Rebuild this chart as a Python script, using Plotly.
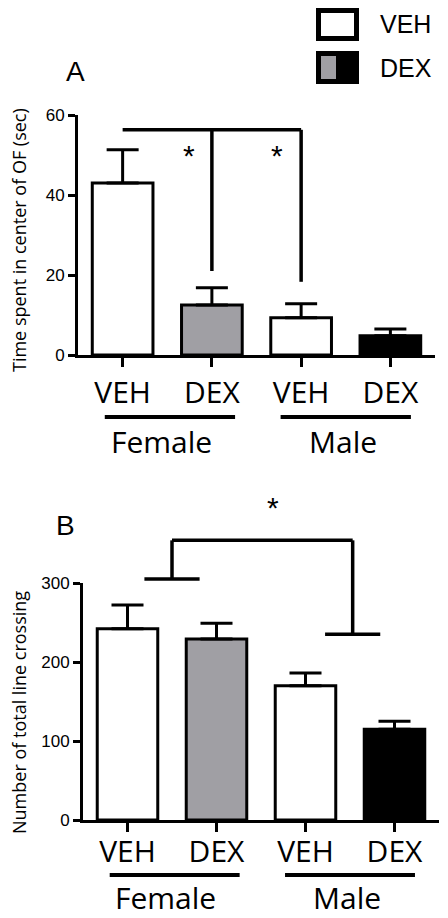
import plotly.graph_objects as go

W, H = 448, 918
OFF = 8                      # page body margin; figure is drawn from (8, 8)
FW, FH = W - OFF, H - OFF

# ---------------- data ----------------
groups = ["VEH", "DEX", "VEH", "DEX"]
sexes = ["Female", "Male"]
bar_colors = ["#ffffff", "#a09fa4", "#ffffff", "#000000"]

center_time_mean = [43.0, 12.5, 9.3, 4.8]
center_time_sem = [8.3, 4.3, 3.5, 1.7]

line_cross_mean = [242, 229, 170, 115]
line_cross_sem = [30, 20, 16, 10]

yA_ticks = [0, 20, 40, 60]
yB_ticks = [0, 100, 200, 300]

# significance marks (data units)
sigA_x = [0, 1, 2]
sigA_top = 56.3
sigA_ends = [21.0, 18.3]
sigA_star_x = [0.74, 1.73]
sigA_star_y = 50.0

sigB_group_x = [0.5, 2.53]
sigB_top = 354
sigB_ends = [305, 235]
sigB_star_x = 1.63
sigB_star_y = 395

group_line_center = [0.53, 2.5]
group_label_x = [0.43, 2.47]


# ---------------- layout helpers (page pixels -> paper) ----------------
def px_x(p):
    return (p - OFF) / FW


def px_y(p):
    return 1 - (p - OFF) / FH


xA_dom = [px_x(78), px_x(435)]
yA_dom = [px_y(355), px_y(115)]
xB_dom = [px_x(83), px_x(439)]
yB_dom = [px_y(820), px_y(583)]

TICK_FONT = dict(family="Liberation Sans, Arial", size=17, color="black")
CAT_FONT = dict(family="Open Sans", size=30, color="black")

fig = go.Figure()

xs = list(range(len(groups)))

fig.add_trace(go.Bar(
    x=xs, y=center_time_mean, width=0.68,
    marker=dict(color=bar_colors, line=dict(color="black", width=3)),
    error_y=dict(type="data", symmetric=False, array=center_time_sem,
                 arrayminus=[0] * 4, color="black", thickness=3, width=16),
    xaxis="x", yaxis="y", showlegend=False, hoverinfo="skip"))

fig.add_trace(go.Bar(
    x=xs, y=line_cross_mean, width=0.68,
    marker=dict(color=bar_colors, line=dict(color="black", width=3)),
    error_y=dict(type="data", symmetric=False, array=line_cross_sem,
                 arrayminus=[0] * 4, color="black", thickness=3, width=16),
    xaxis="x2", yaxis="y2", showlegend=False, hoverinfo="skip"))

common_x = dict(range=[-0.5, 3.5], tickmode="array", tickvals=xs, ticktext=groups,
                ticks="outside", ticklen=9, tickwidth=3, tickcolor="black",
                showline=True, linewidth=3, linecolor="black", showgrid=False,
                zeroline=False, tickfont=CAT_FONT, fixedrange=True, automargin=False)
common_y = dict(ticks="outside", ticklen=7, tickwidth=3, tickcolor="black",
                showline=True, linewidth=3, linecolor="black", showgrid=False,
                zeroline=False, tickfont=TICK_FONT, tickmode="array", fixedrange=True,
                automargin=False)

fig.update_layout(
    width=FW, height=FH,
    margin=dict(l=0, r=0, t=0, b=0),
    paper_bgcolor="white", plot_bgcolor="rgba(0,0,0,0)",
    xaxis=dict(domain=xA_dom, anchor="y", ticklabelstandoff=0, **common_x),
    yaxis=dict(domain=yA_dom, anchor="x", range=[0, 60], tickvals=yA_ticks, **common_y),
    xaxis2=dict(domain=xB_dom, anchor="y2", ticklabelstandoff=-6, **common_x),
    yaxis2=dict(domain=yB_dom, anchor="x2", range=[0, 300], tickvals=yB_ticks, **common_y),
)

shapes = []
LW = 3.5
# panel A bracket
shapes.append(dict(type="line", xref="x", yref="y", x0=sigA_x[0], x1=sigA_x[2],
                   y0=sigA_top, y1=sigA_top, line=dict(color="black", width=LW)))
for xv, yend in zip(sigA_x[1:], sigA_ends):
    shapes.append(dict(type="line", xref="x", yref="y", x0=xv, x1=xv,
                       y0=sigA_top, y1=yend, line=dict(color="black", width=LW)))

# panel B bracket (domain units so it can extend above the axis)
ymaxB = yB_ticks[-1]
shapes.append(dict(type="line", xref="x2", yref="y2 domain",
                   x0=sigB_group_x[0], x1=sigB_group_x[1],
                   y0=sigB_top / ymaxB, y1=sigB_top / ymaxB,
                   line=dict(color="black", width=LW)))
for gx, yend in zip(sigB_group_x, sigB_ends):
    shapes.append(dict(type="line", xref="x2", yref="y2 domain", x0=gx, x1=gx,
                       y0=sigB_top / ymaxB, y1=yend / ymaxB,
                       line=dict(color="black", width=LW)))
    shapes.append(dict(type="line", xref="x2", yref="y2 domain",
                       x0=gx - 0.31, x1=gx + 0.31, y0=yend / ymaxB, y1=yend / ymaxB,
                       line=dict(color="black", width=LW)))

# group underlines + labels
annotations = []
for xr, yr, uy, ly in [("x", "y domain", -0.258, -0.36), ("x2", "y2 domain", -0.232, -0.328)]:
    for c, lx, s in zip(group_line_center, group_label_x, sexes):
        shapes.append(dict(type="line", xref=xr, yref=yr, x0=c - 0.73, x1=c + 0.73,
                           y0=uy, y1=uy, line=dict(color="black", width=4)))
        annotations.append(dict(xref=xr, yref=yr, x=lx, y=ly, text=s, showarrow=False,
                                font=CAT_FONT, xanchor="center", yanchor="middle"))

# stars
STAR_FONT = dict(family="Liberation Sans, Arial", size=30, color="black")
for sx in sigA_star_x:
    annotations.append(dict(xref="x", yref="y", x=sx, y=sigA_star_y, text="*",
                            showarrow=False, font=STAR_FONT,
                            xanchor="center", yanchor="middle"))
annotations.append(dict(xref="x2", yref="y2 domain", x=sigB_star_x, y=sigB_star_y / ymaxB,
                        text="*", showarrow=False, font=STAR_FONT,
                        xanchor="center", yanchor="middle"))

# axis titles
TITLE_FONT = dict(family="Open Sans", size=18, color="black")
annotations.append(dict(xref="paper", yref="paper", x=px_x(19), y=px_y(240),
                        text="Time spent in center of OF (sec)", textangle=-90,
                        showarrow=False, font=TITLE_FONT, xanchor="center", yanchor="middle"))
annotations.append(dict(xref="paper", yref="paper", x=px_x(19), y=px_y(713),
                        text="Number of total line crossing", textangle=-90,
                        showarrow=False, font=TITLE_FONT, xanchor="center", yanchor="middle"))

# panel letters
LETTER_FONT = dict(family="Liberation Sans, Arial", size=28, color="black")
annotations.append(dict(xref="paper", yref="paper", x=px_x(75), y=px_y(72), text="A",
                        showarrow=False, font=LETTER_FONT, xanchor="center", yanchor="middle"))
annotations.append(dict(xref="paper", yref="paper", x=px_x(66), y=px_y(525), text="B",
                        showarrow=False, font=LETTER_FONT, xanchor="center", yanchor="middle"))

# custom legend
shapes.append(dict(type="rect", xref="paper", yref="paper",
                   x0=px_x(318.5), x1=px_x(356.5), y0=px_y(10.5), y1=px_y(38.5),
                   fillcolor="white", line=dict(color="black", width=5)))
shapes.append(dict(type="rect", xref="paper", yref="paper",
                   x0=px_x(316), x1=px_x(359), y0=px_y(51), y1=px_y(84),
                   fillcolor="black", line=dict(width=0)))
shapes.append(dict(type="rect", xref="paper", yref="paper",
                   x0=px_x(321), x1=px_x(336), y0=px_y(56), y1=px_y(79),
                   fillcolor=bar_colors[1], line=dict(width=0)))
LEG_FONT = dict(family="Liberation Sans, Arial", size=25, color="black")
annotations.append(dict(xref="paper", yref="paper", x=px_x(378), y=px_y(24), text="VEH",
                        xanchor="left", yanchor="middle", showarrow=False, font=LEG_FONT))
annotations.append(dict(xref="paper", yref="paper", x=px_x(378), y=px_y(68), text="DEX",
                        xanchor="left", yanchor="middle", showarrow=False, font=LEG_FONT))

fig.update_layout(shapes=shapes, annotations=annotations)

fig.write_html("out.html", config={"displayModeBar": False})
